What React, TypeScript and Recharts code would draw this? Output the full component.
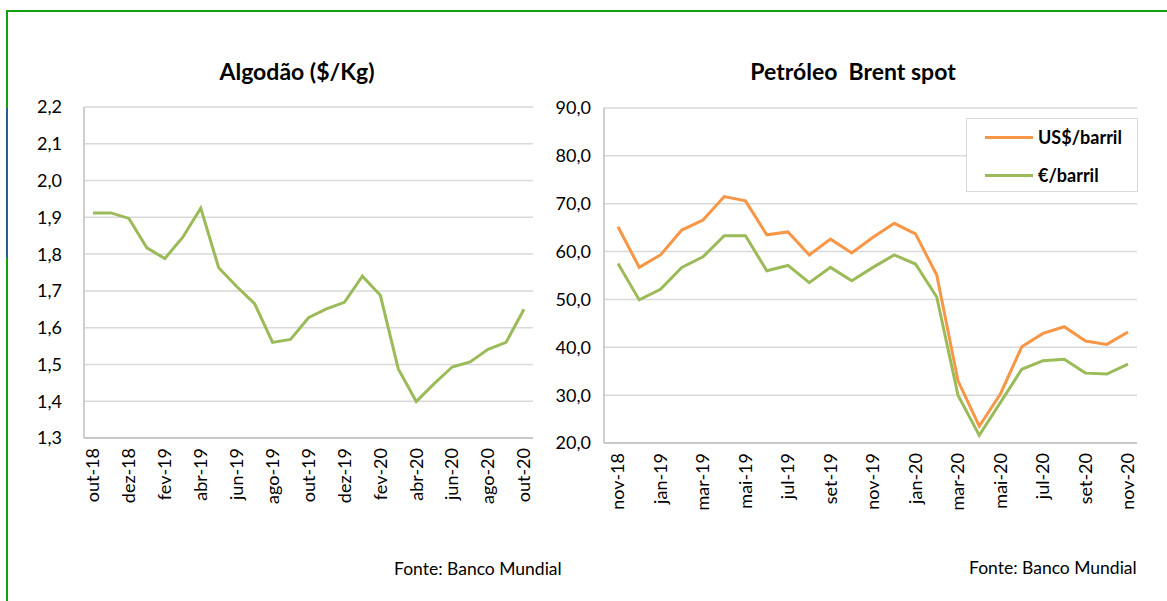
import { LineChart, Line, XAxis, YAxis, CartesianGrid } from 'recharts';

const FONT = 'Lato, "Open Sans", sans-serif';
const GREEN = '#9BBB59';
const ORANGE = '#F79646';
const GRID = '#D9D9D9';

// Algodão ($/Kg), out-18 .. out-20
const cottonMonths = [
  'out-18', 'nov-18', 'dez-18', 'jan-19', 'fev-19', 'mar-19', 'abr-19', 'mai-19', 'jun-19',
  'jul-19', 'ago-19', 'set-19', 'out-19', 'nov-19', 'dez-19', 'jan-20', 'fev-20', 'mar-20',
  'abr-20', 'mai-20', 'jun-20', 'jul-20', 'ago-20', 'set-20', 'out-20',
];
const cottonPrice = [
  1.912, 1.912, 1.897, 1.817, 1.788, 1.846, 1.925, 1.763, 1.712, 1.665, 1.56, 1.568, 1.627,
  1.651, 1.669, 1.74, 1.688, 1.488, 1.399, 1.448, 1.493, 1.507, 1.541, 1.56, 1.65,
];
const cottonTicks = [1.3, 1.4, 1.5, 1.6, 1.7, 1.8, 1.9, 2.0, 2.1, 2.2];

// Petróleo Brent spot, nov-18 .. nov-20
const brentMonths = [
  'nov-18', 'dez-18', 'jan-19', 'fev-19', 'mar-19', 'abr-19', 'mai-19', 'jun-19', 'jul-19',
  'ago-19', 'set-19', 'out-19', 'nov-19', 'dez-19', 'jan-20', 'fev-20', 'mar-20', 'abr-20',
  'mai-20', 'jun-20', 'jul-20', 'ago-20', 'set-20', 'out-20', 'nov-20',
];
const brentUsd = [
  65.2, 56.7, 59.3, 64.5, 66.6, 71.5, 70.6, 63.5, 64.1, 59.3, 62.6, 59.7, 63.0,
  65.9, 63.7, 55.1, 33.0, 23.5, 30.3, 40.1, 42.9, 44.3, 41.3, 40.6, 43.2,
];
const brentEur = [
  57.5, 49.9, 52.1, 56.7, 58.9, 63.3, 63.3, 56.0, 57.1, 53.5, 56.7, 53.9, 56.7,
  59.3, 57.4, 50.5, 30.0, 21.6, 28.5, 35.4, 37.2, 37.5, 34.6, 34.4, 36.5,
];
const brentTicks = [20, 30, 40, 50, 60, 70, 80, 90];
const brentSeries = [
  { key: 'usd', label: 'US$/barril', color: ORANGE },
  { key: 'eur', label: '€/barril', color: GREEN },
];

const cottonData = cottonMonths.map((m, i) => ({ month: m, price: cottonPrice[i] }));
const brentData = brentMonths.map((m, i) => ({ month: m, usd: brentUsd[i], eur: brentEur[i] }));

const comma = (v: number) => v.toFixed(1).replace('.', ',');

const MonthTick = ({ x, y, payload }: any) => (
  <text
    transform={`translate(${x},${y + 2}) rotate(-90)`}
    textAnchor="end"
    dy="0.35em"
    fontSize={18}
    fill="#000"
    fontFamily={FONT}
  >
    {payload.value}
  </text>
);

const textStyle = { fill: '#000', fontSize: 18, fontFamily: FONT };
const axisStyle = { stroke: '#BFBFBF', strokeWidth: 1.5 };

export default function App() {
  return (
    <div
      style={{
        position: 'fixed',
        left: 0,
        top: 0,
        width: 1167,
        height: 601,
        background: '#fff',
        fontFamily: FONT,
        overflow: 'hidden',
      }}
    >
      {/* green frame, with the blue segment on the left edge */}
      <div style={{ position: 'absolute', left: 6, top: 10, width: 1161, height: 2, background: '#12A012' }} />
      <div style={{ position: 'absolute', left: 6, top: 10, width: 2, height: 591, background: '#12A012' }} />
      <div style={{ position: 'absolute', left: 6, top: 108, width: 2, height: 150, background: '#2E5D8C' }} />

      <div style={{ position: 'absolute', left: 97, width: 400, top: 57, textAlign: 'center', fontWeight: 700, fontSize: 23 }}>
        Algodão ($/Kg)
      </div>
      <div style={{ position: 'absolute', left: 653, width: 400, top: 57, textAlign: 'center', fontWeight: 700, fontSize: 23, whiteSpace: 'pre' }}>
        {'Petróleo  Brent spot'}
      </div>

      <div style={{ position: 'absolute', left: 0, top: 0 }}>
        <LineChart width={560} height={601} data={cottonData} margin={{ top: 107, right: 27, bottom: 0, left: 0 }}>
          <CartesianGrid vertical={false} stroke={GRID} strokeWidth={1.5} />
          <XAxis
            dataKey="month"
            interval={1}
            tickLine={false}
            axisLine={axisStyle}
            height={163}
            padding={{ left: 9, right: 9 }}
            tick={<MonthTick />}
          />
          <YAxis
            width={84}
            domain={[1.3, 2.2]}
            ticks={cottonTicks}
            tickFormatter={comma}
            tickLine={false}
            tickMargin={16}
            axisLine={axisStyle}
            tick={textStyle}
          />
          <Line type="linear" dataKey="price" stroke={GREEN} strokeWidth={3} dot={false} isAnimationActive={false} />
        </LineChart>
      </div>

      <div style={{ position: 'absolute', left: 540, top: 0 }}>
        <LineChart width={627} height={601} data={brentData} margin={{ top: 108, right: 30, bottom: 0, left: 0 }}>
          <CartesianGrid vertical={false} stroke={GRID} strokeWidth={1.5} />
          <XAxis
            dataKey="month"
            interval={1}
            tickLine={false}
            axisLine={axisStyle}
            height={158}
            padding={{ left: 14, right: 9 }}
            tick={<MonthTick />}
          />
          <YAxis
            width={64}
            domain={[20, 90]}
            ticks={brentTicks}
            tickFormatter={comma}
            tickLine={false}
            tickMargin={7}
            axisLine={axisStyle}
            tick={textStyle}
          />
          {brentSeries.map((s) => (
            <Line
              key={s.key}
              type="linear"
              dataKey={s.key}
              name={s.label}
              stroke={s.color}
              strokeWidth={3}
              dot={false}
              isAnimationActive={false}
            />
          ))}
        </LineChart>
      </div>

      {/* legend of the Brent chart */}
      <div
        style={{
          position: 'absolute',
          left: 966,
          top: 118,
          width: 172,
          height: 74,
          border: `1.5px solid ${GRID}`,
          background: '#fff',
          boxSizing: 'border-box',
          fontWeight: 700,
          fontSize: 18,
        }}
      >
        {brentSeries.map((s, i) => (
          <div
            key={s.key}
            style={{ position: 'absolute', left: 18, top: i === 0 ? 6 : 44, height: 24, display: 'flex', alignItems: 'center' }}
          >
            <div style={{ width: 48, height: 3, background: s.color, marginRight: 5 }} />
            <span style={{ whiteSpace: 'nowrap' }}>{s.label}</span>
          </div>
        ))}
      </div>

      <div style={{ position: 'absolute', left: 394, top: 558, fontSize: 17.5 }}>Fonte: Banco Mundial</div>
      <div style={{ position: 'absolute', left: 969, top: 557, fontSize: 17.5 }}>Fonte: Banco Mundial</div>
    </div>
  );
}
